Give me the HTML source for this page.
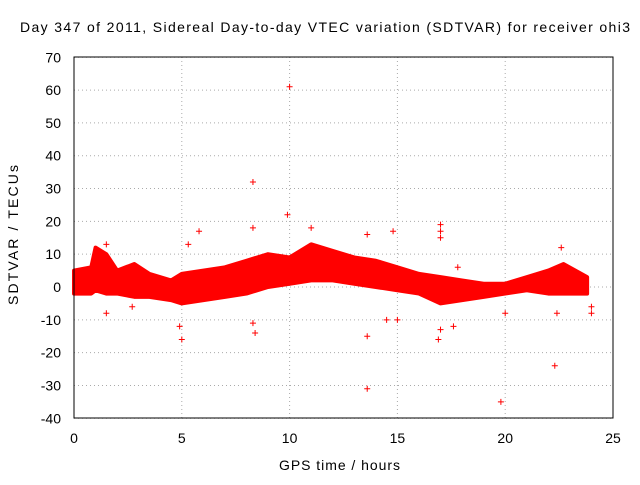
<!DOCTYPE html>
<html><head><meta charset="utf-8"><style>
body{margin:0;background:#fff;}
svg text{font-family:"Liberation Sans",sans-serif;font-size:14px;fill:#000;}
</style></head><body>
<svg id="chart" width="640" height="480">
<rect width="640" height="480" fill="#fff"/>
<text x="20" y="32" textLength="610" lengthAdjust="spacing">Day 347 of 2011, Sidereal Day-to-day VTEC variation (SDTVAR) for receiver ohi3</text>
<text x="279" y="470" textLength="121" lengthAdjust="spacing">GPS time / hours</text>
<text transform="translate(18,305) rotate(-90)" textLength="140" lengthAdjust="spacing">SDTVAR / TECUs</text>
<g id="grid"></g><g id="band"></g><g id="pts"></g>
<rect x="74" y="57" width="539" height="361" fill="none" stroke="#000"/>
<g id="ticks"></g>
</svg>
<script>
const xTicks=[0,5,10,15,20,25];
const yTicks=[-40,-30,-20,-10,0,10,20,30,40,50,60,70];
const bandHours=[0,0.8,1,1.5,2,2.8,3.5,4.5,5,6,7,8,9,10,11,12,13,14,15,16,17,18,19,20,21,22,22.7,23.8];
const bandLow=[-2,-2,-1,-2,-2,-3,-3,-4,-5,-4,-3,-2,0,1,2,2,1,0,-1,-2,-5,-4,-3,-2,-1,-2,-2,-2];
const bandHigh=[5,6,12,10,5,7,4,2,4,5,6,8,10,9,13,11,9,8,6,4,3,2,1,1,3,5,7,3];
const outX=[1.5,1.5,2.7,5,4.9,5.3,5.8,8.3,8.3,8.4,8.3,10,9.9,11,13.6,13.6,13.6,14.8,14.5,15,17,17,17,16.9,17,17.6,17.8,19.8,20,22.3,22.6,22.4,24,24];
const outY=[13,-8,-6,-16,-12,13,17,32,18,-14,-11,61,22,18,-15,-31,16,17,-10,-10,19,17,15,-16,-13,-12,6,-35,-8,-24,12,-8,-8,-6];
const X=v=>74+v*(539/25), Y=v=>287-v*(361/110);
const NS='http://www.w3.org/2000/svg';
function mk(t,a,p){const e=document.createElementNS(NS,t);for(const k in a)e.setAttribute(k,a[k]);p.appendChild(e);return e;}
const grid=document.getElementById('grid'),ticks=document.getElementById('ticks');
xTicks.forEach(v=>{
 const l=mk('line',{x1:X(v),x2:X(v),y1:57,y2:418,stroke:'#aaa','stroke-dasharray':'1,3'},grid);
 
 
 const t=mk('text',{x:X(v),y:443,'text-anchor':'middle'},ticks);t.textContent=v;
 
 
});
yTicks.forEach(v=>{
 const l=mk('line',{x1:74,x2:613,y1:Y(v),y2:Y(v),stroke:'#aaa','stroke-dasharray':'1,3'},grid);
 
 
 const t=mk('text',{x:61,y:Y(v)+5,'text-anchor':'end'},ticks);t.textContent=v;
 
 
});
let pts=bandHours.map((h,i)=>X(h)+','+Y(bandHigh[i]));
for(let i=bandHours.length-1;i>=0;i--)pts.push(X(bandHours[i])+','+Y(bandLow[i]));
const poly=mk('polygon',{points:pts.join(' '),fill:'#f00',stroke:'#f00','stroke-width':4,'stroke-linejoin':'round'},document.getElementById('band'));


const pg=document.getElementById('pts');
outX.forEach((h,i)=>{
 const x=X(h),y=Y(outY[i]);
 const p=mk('path',{d:`M${x-3},${y}h6M${x},${y-3}v6`,stroke:'#f00','stroke-width':1},pg);
 
 
});
</script>
</body></html>
